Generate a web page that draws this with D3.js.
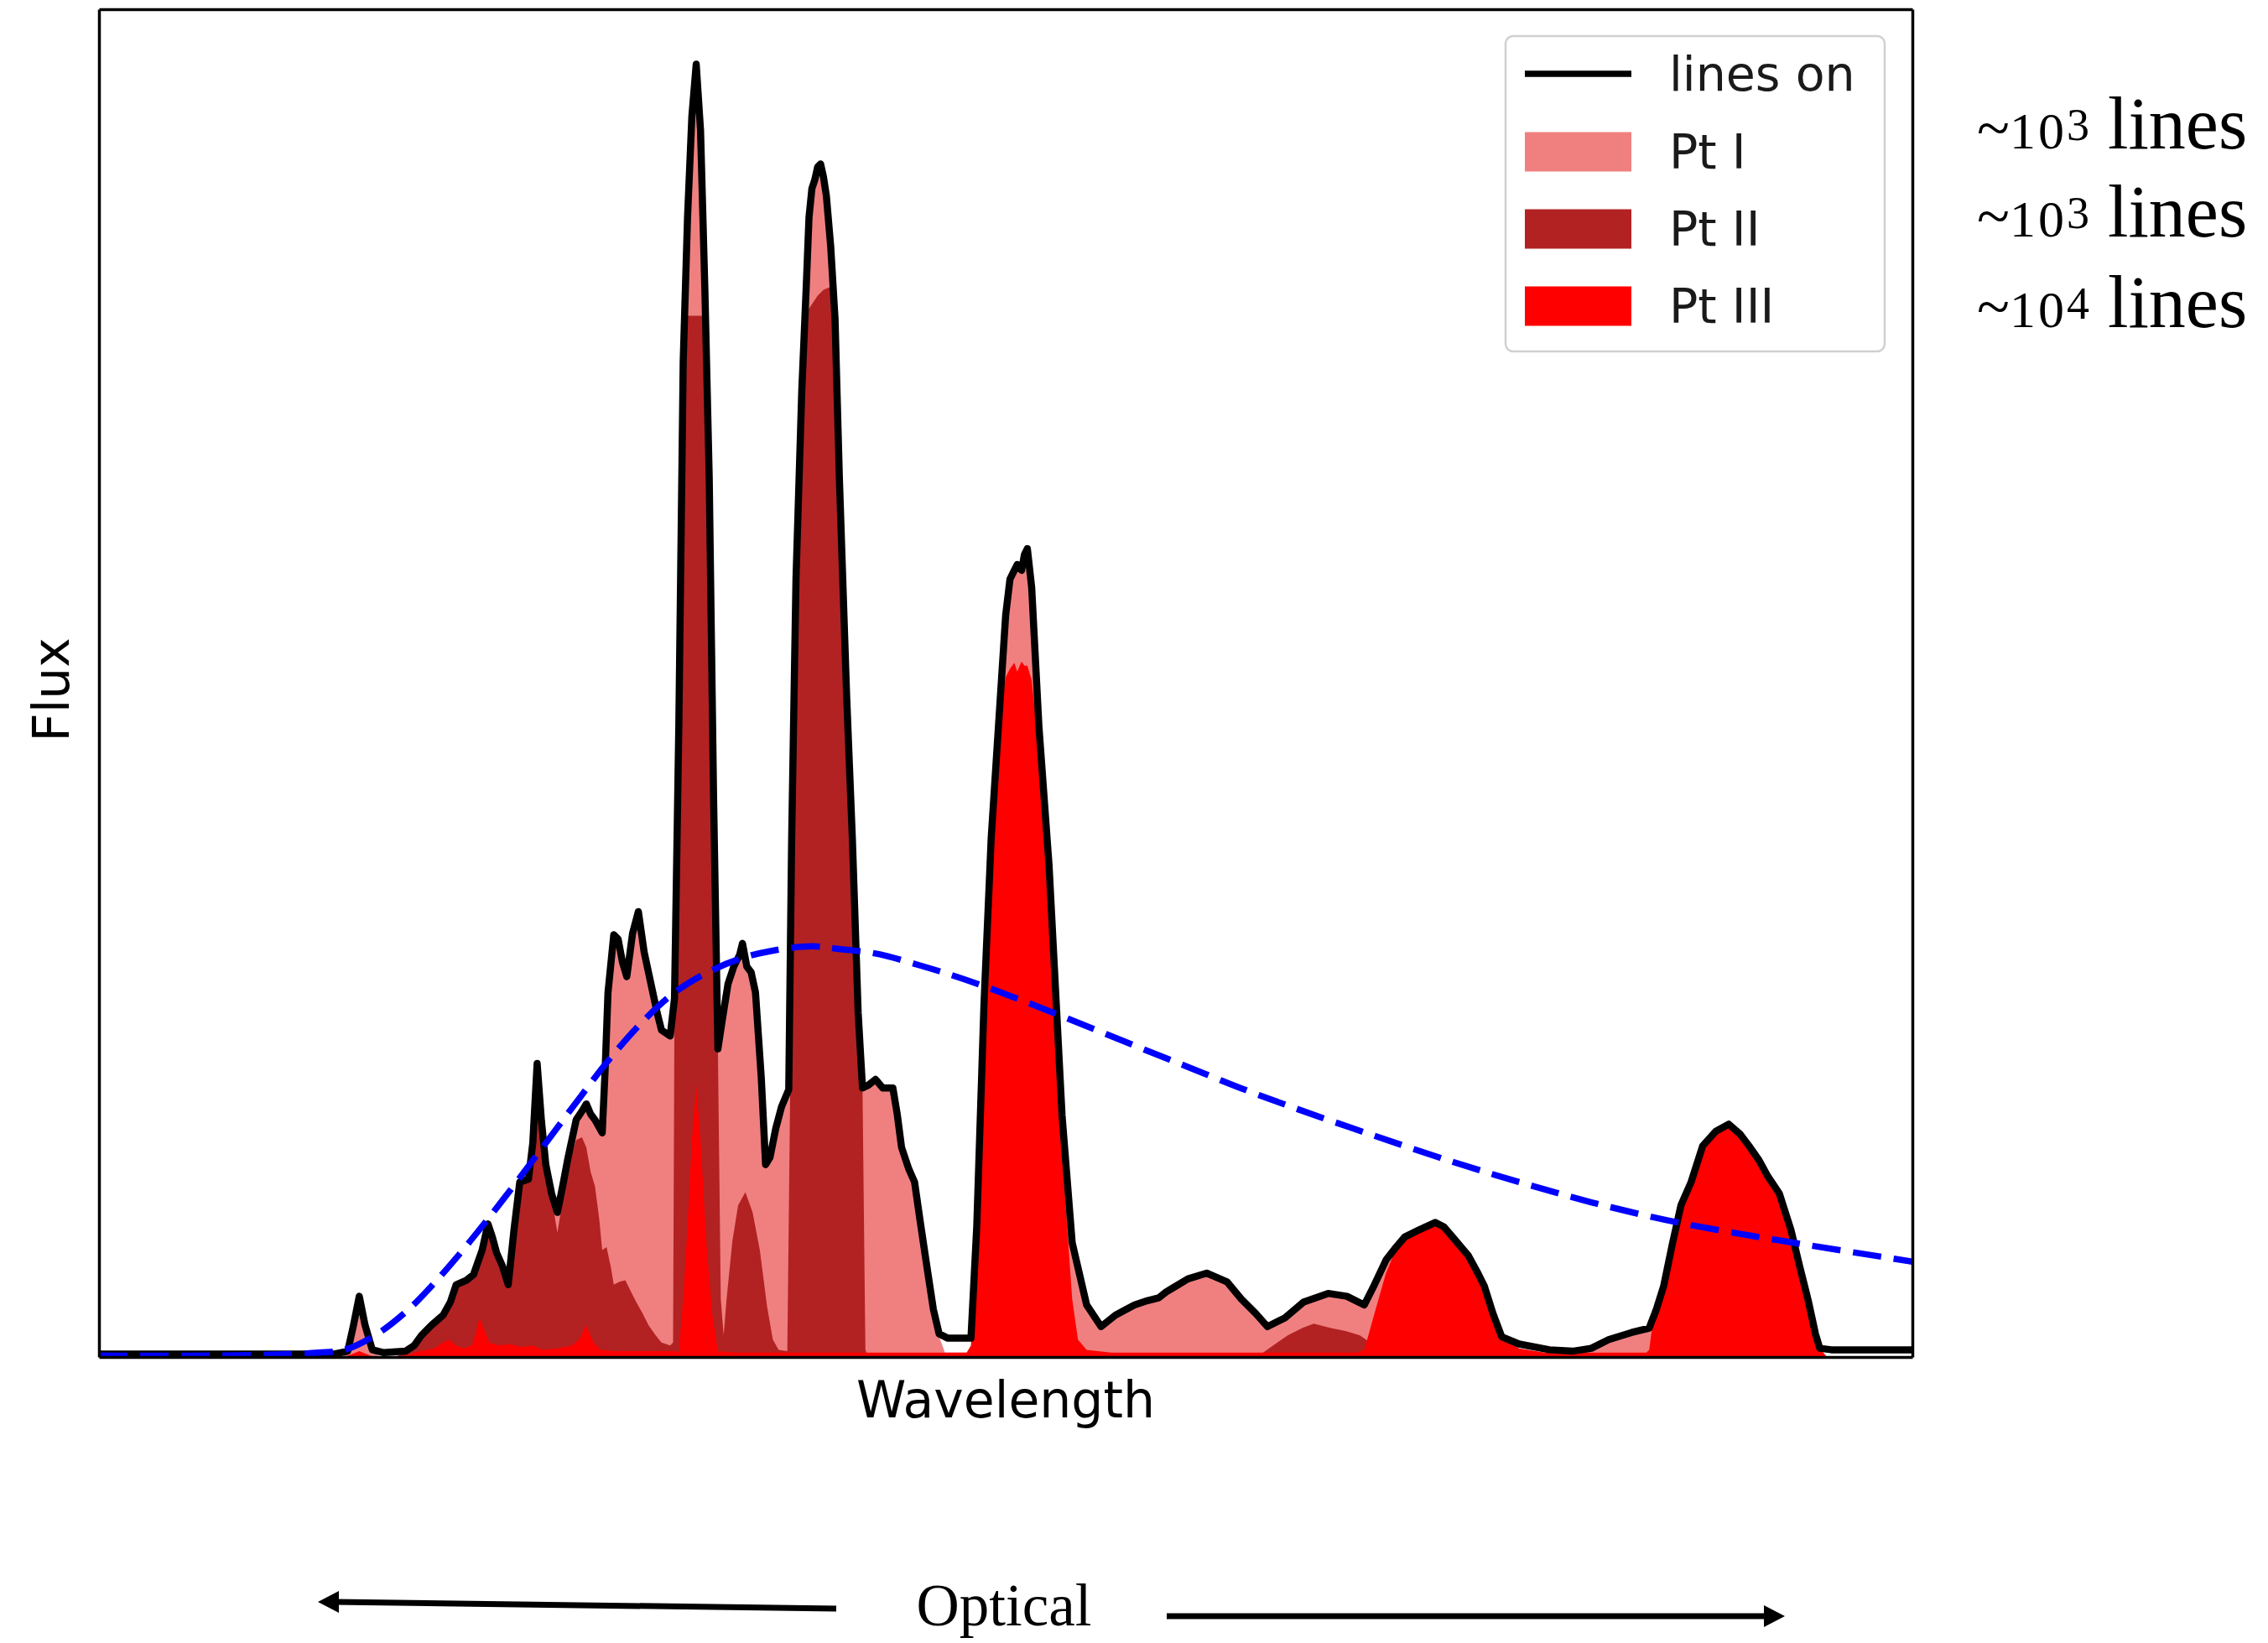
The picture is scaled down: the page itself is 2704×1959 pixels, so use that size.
<!DOCTYPE html>
<html>
<head>
<meta charset="utf-8">
<script src="https://cdn.jsdelivr.net/npm/d3@7"></script>
<style>
  html, body { margin: 0; padding: 0; background: #ffffff; }
  svg { display: block; }
</style>
</head>
<body>
<svg id="chart" width="2704" height="1959"></svg>
<script>
// ---- Spectrum data (arbitrary wavelength units, arbitrary flux units) ----

// Total emergent spectrum with all lines switched on: [wavelength, flux]
const linesOn = [
  [0,2],[82,2],[162,2],[172,4],[176,22],[180,42],[184,22],[189,5],[197,3],[212,4],[218,8],[223,15],
  [230,22],[238,29],[243,38],[247,50],[254,53],[259,57],[265,74],[269,92],[272,83],[275,72],[279,63],
  [283,50],[287,88],[291,121],[297,123],[300,148],[303,203],[306,163],[309,133],[313,113],[317,100],
  [321,120],[324,136],[330,164],[334,170],[337,175],[340,168],[343,164],[348,155],[350,198],[352,252],
  [356,292],[359,289],[362,273],[365,263],[369,293],[373,308],[377,280],[380,266],[383,252],[386,238],
  [389,226],[395,222],[398,248],[401,438],[404,688],[407,788],[410,858],[413,894],[416,848],[419,738],
  [422,608],[425,388],[428,213],[431,233],[435,258],[439,270],[443,278],[445,286],[448,270],[451,266],
  [454,252],[458,193],[461,133],[464,138],[468,158],[472,173],[477,185],[479,358],[482,538],[486,668],
  [489,738],[491,788],[493,808],[495,814],[497,823],[499,825],[501,816],[503,803],[506,768],[509,718],
  [512,608],[517,458],[521,358],[525,238],[528,186],[532,188],[537,192],[542,186],[549,186],[552,168],
  [555,145],[560,130],[564,121],[568,93],[572,66],[577,33],[581,16],[587,13],[603,13],[607,90],
  [612,244],[617,359],[622,436],[627,513],[630,538],[633,544],[635,548],[638,544],[640,555],[642,559],
  [645,532],[650,436],[657,340],[662,244],[666,167],[673,79],[683,36],[693,21],[703,29],[716,36],
  [725,39],[733,41],[738,45],[743,48],[753,54],[766,58],[780,52],[790,40],[800,30],[808,21],[820,27],
  [833,38],[850,44],[863,42],[875,36],[882,50],[890,67],[897,76],[903,83],[913,88],[924,93],[930,90],
  [936,83],[942,76],[947,70],[953,59],[958,49],[964,30],[970,14],[982,9],[1003,5],[1019,4],[1032,6],
  [1044,12],[1060,17],[1072,20],[1077,33],[1082,49],[1088,78],[1094,105],[1101,121],[1109,146],
  [1118,156],[1127,161],[1135,154],[1141,146],[1148,136],[1154,125],[1162,113],[1170,88],[1176,63],
  [1182,39],[1187,16],[1190,6],[1198,5],[1254,5]
];

// Pt I contribution level
const ptI = [
  [0,0],[168,0],[172,4],[176,22],[180,42],[184,22],[189,5],[194,0],[205,0],[212,4],[218,8],[223,15],
  [230,22],[238,29],[243,38],[247,50],[254,53],[259,57],[265,74],[269,92],[272,83],[275,72],[279,63],
  [283,50],[287,88],[291,121],[297,123],[300,148],[303,203],[306,163],[309,133],[313,113],[317,100],
  [321,120],[324,136],[330,164],[334,170],[337,175],[340,168],[343,164],[348,155],[350,198],[352,252],
  [356,292],[359,289],[362,273],[365,263],[369,293],[373,308],[377,280],[380,266],[383,252],[386,238],
  [389,226],[395,222],[398,248],[401,438],[404,688],[407,788],[410,858],[413,894],[416,848],[419,738],
  [422,608],[425,388],[428,213],[431,233],[435,258],[439,270],[443,278],[445,286],[448,270],[451,266],
  [454,252],[458,193],[461,133],[464,138],[468,158],[472,173],[477,185],[479,358],[482,538],[486,668],
  [489,738],[491,788],[493,808],[495,814],[497,823],[499,825],[501,816],[503,803],[506,768],[509,718],
  [512,608],[517,458],[521,358],[525,238],[528,186],[532,188],[537,192],[542,186],[549,186],[552,168],
  [555,145],[560,130],[564,121],[568,93],[572,66],[577,33],[581,14],[585,3],[603,3],[607,90],
  [612,244],[617,359],[622,436],[627,513],[630,538],[633,544],[635,548],[638,544],[640,555],[642,559],
  [645,532],[650,436],[657,340],[662,244],[666,167],[673,79],[683,36],[693,21],[703,29],[716,36],
  [725,39],[733,41],[738,45],[743,48],[753,54],[766,58],[780,52],[790,40],[800,30],[808,21],[820,27],
  [833,38],[850,44],[863,42],[875,36],[882,50],[890,67],[897,76],[903,83],[913,88],[924,93],[930,90],
  [936,83],[942,76],[947,70],[953,59],[958,49],[964,30],[970,12],[982,4],[1003,2],[1019,2],[1032,5],
  [1044,11],[1060,16],[1072,19],[1077,33],[1082,45],[1088,0],[1254,0]
];

// Pt II contribution level
const ptII = [
  [0,0],[205,0],[212,3],[218,8],[223,15],[230,22],[238,29],[243,38],[247,50],[254,53],[259,57],
  [265,74],[269,92],[272,83],[275,72],[279,63],[283,50],[287,88],[291,121],[297,123],[300,148],
  [303,203],[306,163],[309,133],[313,110],[317,86],[321,110],[324,130],[330,150],[334,152],[337,145],
  [340,128],[343,118],[346,95],[348,74],[351,76],[354,62],[356,50],[360,52],[364,53],[368,45],
  [371,39],[376,30],[380,22],[385,15],[389,10],[395,8],[397,10],[398,248],[401,438],[404,688],
  [407,720],[413,720],[419,720],[422,608],[425,388],[428,213],[430,40],[432,15],[434,40],[438,80],
  [442,105],[447,114],[452,100],[457,74],[462,35],[466,12],[470,5],[476,4],[478,185],[479,358],
  [482,538],[486,668],[489,722],[493,728],[497,734],[501,738],[506,740],[509,718],[512,608],[517,458],
  [521,358],[525,238],[528,186],[530,5],[532,0],[800,0],[805,3],[812,8],[822,15],[832,20],[840,23],
  [852,20],[862,18],[872,15],[882,8],[890,2],[897,0],[1254,0]
];

// Pt III contribution level
const ptIII = [
  [0,0],[170,0],[175,2],[180,4],[185,2],[190,0],[205,0],[212,1],[222,4],[232,6],[238,10],[242,12],
  [247,8],[252,6],[258,8],[261,18],[263,27],[266,20],[270,10],[277,8],[284,9],[292,7],[300,8],
  [307,5],[317,6],[327,8],[332,12],[337,22],[342,10],[347,5],[357,4],[372,4],[387,4],[398,4],
  [401,3],[404,40],[407,90],[410,150],[413,188],[416,150],[420,80],[424,30],[428,4],[440,3],[477,3],
  [540,3],[600,3],[603,8],[607,85],[612,240],[617,355],[622,436],[627,470],[630,476],[633,480],
  [635,474],[638,481],[640,478],[642,478],[645,468],[650,420],[657,310],[662,210],[666,140],[673,40],
  [677,12],[683,5],[700,3],[870,3],[875,5],[882,30],[890,58],[897,75],[903,83],[913,88],[924,93],
  [930,90],[936,83],[942,76],[947,70],[953,59],[958,49],[964,30],[970,14],[982,6],[1000,3],[1070,3],
  [1072,5],[1074,20],[1077,33],[1082,49],[1088,78],[1094,105],[1101,121],[1109,146],[1118,156],
  [1127,161],[1135,154],[1141,146],[1148,136],[1154,125],[1162,113],[1170,88],[1176,63],[1182,39],
  [1187,16],[1190,6],[1195,0],[1254,0]
];

// Underlying continuum (lines off)
const continuum = [
  [0,1],[82,1],[132,2],[152,3],[170,5],[191,15],[212,31],[229,48],[250,72],[271,98],[291,124],
  [312,152],[333,180],[353,206],[377,233],[398,252],[419,265],[442,275],[466,281],[493,284],[513,282],
  [537,279],[567,271],[596,262],[632,249],[670,234],[712,217],[752,201],[792,185],[830,171],[882,153],
  [936,135],[982,121],[1032,107],[1092,93],[1172,79],[1254,66]
];

// Legend and annotation text
const legendLabels = ["lines on", "Pt I", "Pt II", "Pt III"];
const lineCountExponents = ["3", "3", "4"];
const axisLabels = { x: "Wavelength", y: "Flux" };
const bandLabel = "Optical";

// ---- Layout ----
const frame = { left: 118, right: 2280, top: 11, bottom: 1618 };
const colors = { ptI: "#f08080", ptII: "#b22222", ptIII: "#ff0000", line: "#000000", cont: "#0000ff" };

const svg = d3.select("#chart");
svg.append("rect").attr("width", 2704).attr("height", 1959).attr("fill", "#ffffff");

const x = d3.scaleLinear().domain([0, 1254]).range([frame.left, frame.right]);
const y = d3.scaleLinear().domain([0, 932]).range([frame.bottom, frame.top]);

svg.append("defs").append("clipPath").attr("id", "plotClip")
  .append("rect")
  .attr("x", frame.left).attr("y", frame.top)
  .attr("width", frame.right - frame.left).attr("height", frame.bottom - frame.top);

const plot = svg.append("g").attr("clip-path", "url(#plotClip)");

const area = d3.area()
  .x(d => x(d[0]))
  .y0(y(0))
  .y1(d => y(d[1]));

const line = d3.line()
  .x(d => x(d[0]))
  .y(d => y(d[1]));

// Ion contributions, each filled from zero and overlaid
[[ptI, colors.ptI], [ptII, colors.ptII], [ptIII, colors.ptIII]].forEach(([data, c]) => {
  plot.append("path").datum(data).attr("d", area).attr("fill", c).attr("stroke", "none");
});

// Total spectrum
plot.append("path").datum(linesOn)
  .attr("d", line)
  .attr("fill", "none")
  .attr("stroke", colors.line)
  .attr("stroke-width", 8.5)
  .attr("stroke-linejoin", "round")
  .attr("stroke-linecap", "round");

// Continuum (dashed)
plot.append("path").datum(continuum)
  .attr("d", d3.line().x(d => x(d[0])).y(d => y(d[1])).curve(d3.curveCatmullRom.alpha(0.5)))
  .attr("fill", "none")
  .attr("stroke", colors.cont)
  .attr("stroke-width", 7.5)
  .attr("stroke-dasharray", "34 15");

// Axes frame without ticks
const axisStyle = g => {
  g.select(".domain").attr("stroke", "#000").attr("stroke-width", 3.5);
  g.selectAll(".tick").remove();
};
svg.append("g").attr("transform", `translate(0,${frame.bottom})`)
  .call(d3.axisBottom(x).tickValues([]).tickSizeOuter(0)).call(axisStyle);
svg.append("g").attr("transform", `translate(0,${frame.top})`)
  .call(d3.axisTop(x).tickValues([]).tickSizeOuter(0)).call(axisStyle);
svg.append("g").attr("transform", `translate(${frame.left},0)`)
  .call(d3.axisLeft(y).tickValues([]).tickSizeOuter(0)).call(axisStyle);
svg.append("g").attr("transform", `translate(${frame.right},0)`)
  .call(d3.axisRight(y).tickValues([]).tickSizeOuter(0)).call(axisStyle);

// Axis labels
svg.append("text")
  .attr("x", (frame.left + frame.right) / 2).attr("y", 1690)
  .attr("text-anchor", "middle")
  .attr("font-family", "'DejaVu Sans', sans-serif").attr("font-size", 60)
  .attr("fill", "#000")
  .text(axisLabels.x);
svg.append("text")
  .attr("transform", `translate(82,${(frame.top + frame.bottom) / 2 + 8}) rotate(-90)`)
  .attr("text-anchor", "middle")
  .attr("font-family", "'DejaVu Sans', sans-serif").attr("font-size", 60)
  .attr("fill", "#000")
  .text(axisLabels.y);

// Legend
const legend = svg.append("g");
legend.append("rect")
  .attr("x", 1795).attr("y", 43).attr("width", 452).attr("height", 376)
  .attr("rx", 9).attr("ry", 9)
  .attr("fill", "#ffffff").attr("fill-opacity", 0.8)
  .attr("stroke", "#d0d0d0").attr("stroke-width", 2.5);
const rowY = [88, 181, 273, 365];
const legendFills = [null, colors.ptI, colors.ptII, colors.ptIII];
legendLabels.forEach((label, i) => {
  if (i === 0) {
    legend.append("line")
      .attr("x1", 1818).attr("x2", 1945).attr("y1", rowY[i]).attr("y2", rowY[i])
      .attr("stroke", colors.line).attr("stroke-width", 7.5);
  } else {
    legend.append("rect")
      .attr("x", 1818).attr("y", rowY[i] - 23.5).attr("width", 127).attr("height", 47)
      .attr("fill", legendFills[i]);
  }
  legend.append("text")
    .attr("x", 1990).attr("y", rowY[i] + 20)
    .attr("font-family", "'DejaVu Sans', sans-serif").attr("font-size", 57)
    .attr("fill", "#1a1a1a")
    .text(label);
});

// Line-count annotations beside the legend
const noteBase = [177, 282, 390];
lineCountExponents.forEach((e, i) => {
  const t = svg.append("text")
    .attr("x", 2357).attr("y", noteBase[i])
    .attr("font-family", "'Liberation Serif', 'Times New Roman', serif")
    .attr("fill", "#000");
  t.append("tspan").attr("font-size", 72).text("~");
  t.append("tspan").attr("font-size", 62).attr("letter-spacing", 3).text("10");
  t.append("tspan").attr("font-size", 54).attr("dy", -10).text(e);
  t.append("tspan").attr("font-size", 88).attr("dy", 10).text(" lines");
});

// Optical band marker with arrows
const band = svg.append("g");
band.append("text")
  .attr("x", 1197).attr("y", 1938)
  .attr("text-anchor", "middle")
  .attr("font-family", "'Liberation Serif', 'Times New Roman', serif")
  .attr("font-size", 71)
  .attr("fill", "#000")
  .text(bandLabel);
band.append("path")
  .attr("d", "M997,1918 L398,1910")
  .attr("stroke", "#000").attr("stroke-width", 7).attr("fill", "none");
band.append("path")
  .attr("d", "M379,1910 L404,1897 L404,1923 Z")
  .attr("fill", "#000");
band.append("path")
  .attr("d", "M1391,1927 L2108,1927")
  .attr("stroke", "#000").attr("stroke-width", 7).attr("fill", "none");
band.append("path")
  .attr("d", "M2128,1927 L2103,1914 L2103,1940 Z")
  .attr("fill", "#000");
</script>
</body>
</html>
